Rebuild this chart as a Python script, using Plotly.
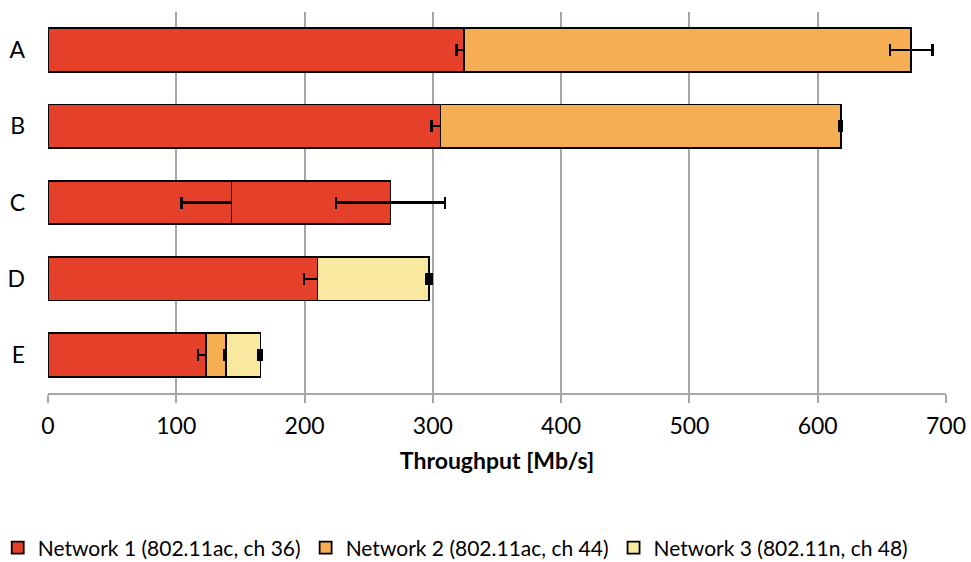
import plotly.graph_objects as go

categories = ["A", "B", "C", "D", "E"]

net1_values = [324, 306, 143, 210, 123]
net1_errors = [5.5, 7, 39, 10.5, 6]

net2_values = [349, 312, 124, None, 15.6]
net2_errors = [16.5, 1, 42.5, None, 1.5]

net3_values = [None, None, None, 87, 27]
net3_errors = [None, None, None, 2, 1.5]

series_names = [
    "Network 1 (802.11ac, ch 36)",
    "Network 2 (802.11ac, ch 44)",
    "Network 3 (802.11n, ch 48)",
]

RED = "#E5402A"
ORANGE = "#F5AF52"
YELLOW = "#F8E8A0"

x_ticks = [0, 100, 200, 300, 400, 500, 600, 700]

FONT = "Lato"

def err(vals):
    return dict(type="data", array=vals, visible=True, color="black",
                thickness=2.2, width=6)

fig = go.Figure()
fig.add_trace(go.Bar(
    y=categories, x=net1_values, orientation="h", name=series_names[0],
    marker=dict(color=RED, line=dict(color="black", width=1.8)),
    error_x=err(net1_errors),
))
# In scenario C the second client shares channel 36, hence drawn in the Network 1 colour
net2_colors = [RED if c == "C" else ORANGE for c in categories]
fig.add_trace(go.Bar(
    y=categories, x=net2_values, orientation="h", name=series_names[1],
    marker=dict(color=net2_colors, line=dict(color="black", width=1.8)),
    error_x=err(net2_errors),
))
fig.add_trace(go.Bar(
    y=categories, x=net3_values, orientation="h", name=series_names[2],
    marker=dict(color=YELLOW, line=dict(color="black", width=1.8)),
    error_x=err(net3_errors),
))

fig.update_layout(
    barmode="stack",
    bargap=0.43,
    width=971, height=562,
    margin=dict(l=48, r=25, t=12, b=169, autoexpand=False),
    paper_bgcolor="white", plot_bgcolor="white",
    font=dict(family=FONT, size=23, color="black"),
    showlegend=True,
    legend=dict(
        orientation="h", yref="paper", xref="paper",
        x=-0.056, xanchor="left", y=-0.407, yanchor="middle",
        font=dict(family=FONT, size=21, color="black"),
        itemwidth=30, traceorder="normal",
    ),
    xaxis=dict(
        range=[0, 700], tickvals=x_ticks, ticktext=[str(v) for v in x_ticks],
        showgrid=True, gridcolor="#A6A6A6", gridwidth=1.6,
        showline=True, linecolor="#A6A6A6", linewidth=1.6,
        ticks="outside", ticklen=8, tickcolor="#A6A6A6", tickwidth=1.6,
        ticklabelstandoff=4, automargin=False,
        zeroline=False,
        title=dict(text="<b>Throughput [Mb/s]</b>", font=dict(family=FONT, size=23),
                   standoff=14),
    ),
    yaxis=dict(
        autorange="reversed", showgrid=False, showline=False, zeroline=False,
        ticks="", ticklabelstandoff=22, automargin=False,
    ),
)

fig.write_html("out.html", config={"displayModeBar": False},
               post_script="document.body.style.margin='0';")
